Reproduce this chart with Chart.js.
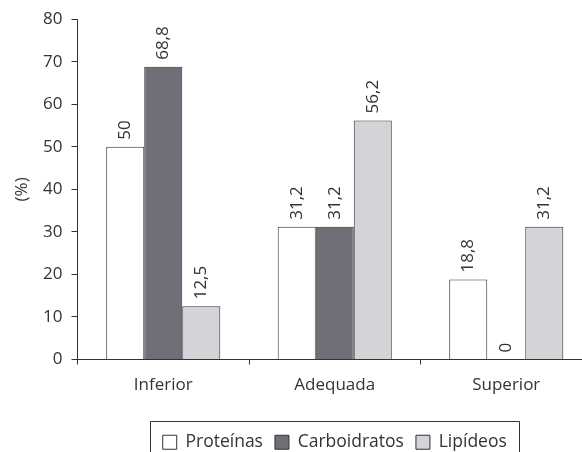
<!DOCTYPE html>
<html>
<head>
<meta charset="utf-8">
<script src="https://cdn.jsdelivr.net/npm/chart.js@4"></script>
<style>
  html, body { margin: 0; padding: 0; background: #fff; }
  #wrap { width: 582px; height: 452px; overflow: hidden; position: relative; }
</style>
</head>
<body>
<div id="wrap">
  <canvas id="chart" width="600" height="470"></canvas>
</div>
<script>
// Adequação da dieta (%)
const categories = ["Inferior", "Adequada", "Superior"];
const seriesNames = ["Proteínas", "Carboidratos", "Lipídeos"];
const proteinas = [50, 31.2, 18.8];
const carboidratos = [68.8, 31.2, 0];
const lipideos = [12.5, 56.2, 31.2];
const yTicks = [0, 10, 20, 30, 40, 50, 60, 70, 80];

const seriesColors = ["#ffffff", "#6f6f78", "#d3d3d8"];
const inkColor = "#333333";
const fontFamily = "'Open Sans', 'DejaVu Sans', sans-serif";

Chart.defaults.font.family = fontFamily;
Chart.defaults.font.size = 17;
Chart.defaults.color = inkColor;

function formatValue(v) {
  return v.toString().replace(".", ",");
}

// Rotated value labels above each bar
const valueLabels = {
  id: "valueLabels",
  afterDatasetsDraw(chart) {
    const ctx = chart.ctx;
    ctx.save();
    ctx.font = "17px " + fontFamily;
    ctx.fillStyle = inkColor;
    ctx.textAlign = "left";
    ctx.textBaseline = "middle";
    chart.data.datasets.forEach((ds, i) => {
      const meta = chart.getDatasetMeta(i);
      meta.data.forEach((bar, j) => {
        ctx.save();
        ctx.translate(bar.x, bar.y - 7);
        ctx.rotate(-Math.PI / 2);
        ctx.fillText(formatValue(ds.data[j]), 0, 0);
        ctx.restore();
      });
    });
    ctx.restore();
  },
};

// Open frame around the legend (no bottom edge, like the source)
const legendFrame = {
  id: "legendFrame",
  afterDraw(chart) {
    const boxes = chart.legend && chart.legend.legendHitBoxes;
    if (!boxes || !boxes.length) return;
    const first = boxes[0];
    const last = boxes[boxes.length - 1];
    const left = Math.round(first.left - 13) + 0.5;
    const right = Math.round(last.left + last.width + 12) + 0.5;
    const top = Math.round(first.top + first.height / 2 - 21) + 0.5;
    const bottom = chart.height;
    const ctx = chart.ctx;
    ctx.save();
    ctx.strokeStyle = inkColor;
    ctx.lineWidth = 1;
    ctx.beginPath();
    ctx.moveTo(left, bottom);
    ctx.lineTo(left, top);
    ctx.lineTo(right, top);
    ctx.lineTo(right, bottom);
    ctx.stroke();
    ctx.restore();
  },
};

new Chart(document.getElementById("chart"), {
  type: "bar",
  data: {
    labels: categories,
    datasets: [proteinas, carboidratos, lipideos].map((values, i) => ({
      label: seriesNames[i],
      data: values,
      backgroundColor: seriesColors[i],
      borderColor: inkColor,
      borderWidth: 1,
      borderSkipped: "start",
      categoryPercentage: 0.665,
      barPercentage: 1.0,
    })),
  },
  options: {
    responsive: false,
    animation: false,
    layout: { padding: { top: 10, right: 8, bottom: 9, left: 0 } },
    plugins: {
      legend: {
        position: "bottom",
        fullSize: false,
        labels: {
          boxWidth: 14,
          boxHeight: 14,
          padding: 12,
          color: inkColor,
          font: { size: 17.5 },
        },
      },
      tooltip: { enabled: false },
    },
    scales: {
      x: {
        grid: {
          display: true,
          drawOnChartArea: false,
          drawTicks: true,
          tickLength: 5,
          color: inkColor,
        },
        border: { display: true, color: inkColor, width: 1 },
        ticks: { padding: 10, color: inkColor, font: { size: 17 } },
        afterFit: (scale) => {
          scale.height = 62;
        },
      },
      y: {
        min: 0,
        max: 80,
        afterBuildTicks: (scale) => {
          scale.ticks = yTicks.map((v) => ({ value: v }));
        },
        grid: {
          display: true,
          drawOnChartArea: false,
          drawTicks: true,
          tickLength: 6,
          color: inkColor,
        },
        border: { display: true, color: inkColor, width: 1 },
        ticks: { padding: 9, color: inkColor, font: { size: 17 } },
        title: {
          display: true,
          text: "(%)",
          color: inkColor,
          font: { size: 17 },
          padding: { top: 12, bottom: 0 },
        },
        afterFit: (scale) => {
          scale.width = 77.5;
        },
      },
    },
  },
  plugins: [valueLabels, legendFrame],
});
</script>
</body>
</html>
